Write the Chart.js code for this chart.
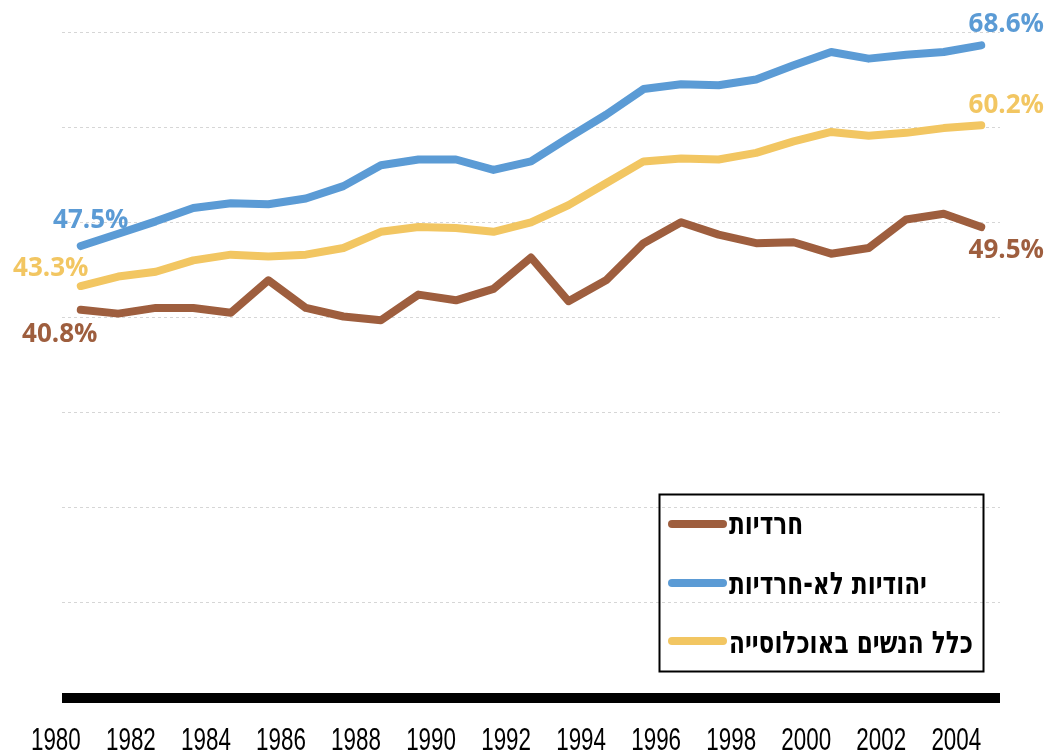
<!DOCTYPE html>
<html>
<head>
<meta charset="utf-8">
<script src="https://cdn.jsdelivr.net/npm/chart.js@4.4.1/dist/chart.umd.min.js"></script>
<style>
  html, body { margin: 0; padding: 0; background: #fff; }
</style>
</head>
<body>
<canvas id="myChart" width="1050" height="753"></canvas>
<script>
'use strict';

var years = ['1980', '1981', '1982', '1983', '1984', '1985', '1986', '1987', '1988', '1989',
    '1990', '1991', '1992', '1993', '1994', '1995', '1996', '1997', '1998', '1999',
    '2000', '2001', '2002', '2003', '2004'];
var shownYears = ['1980', '1982', '1984', '1986', '1988', '1990', '1992', '1994', '1996',
    '1998', '2000', '2002', '2004'];

var haredi = [40.8, 40.4, 41.0, 41.0, 40.5, 43.9, 41.0, 40.1, 39.7, 42.4,
    41.8, 43.0, 46.3, 41.7, 43.9, 47.8, 50.0, 48.7, 47.8, 47.9,
    46.7, 47.3, 50.3, 50.9, 49.5];
var nonHaredi = [47.5, 48.8, 50.1, 51.5, 52.0, 51.9, 52.5, 53.8, 56.0, 56.6,
    56.6, 55.5, 56.4, 58.9, 61.3, 64.0, 64.5, 64.4, 65.0, 66.5,
    67.9, 67.2, 67.6, 67.9, 68.6];
var allWomen = [43.3, 44.3, 44.8, 46.0, 46.6, 46.4, 46.6, 47.3, 49.0, 49.5,
    49.4, 49.0, 50.0, 51.8, 54.1, 56.4, 56.7, 56.6, 57.3, 58.5,
    59.5, 59.1, 59.4, 59.9, 60.2];

var seriesNames = ['חרדיות', 'יהודיות לא-חרדיות', 'כלל הנשים באוכלוסייה'];
var seriesColors = ['rgb(158, 94, 62)', 'rgb(91, 155, 213)', 'rgb(242, 198, 98)'];

var yMin = 0;
var yMax = 70;
var yStep = 10;

// label offsets next to first / last point: [dx, dy] of text baseline centre
var firstLabelOffset = [[-21, 32], [10, -18], [-30, -10]];
var lastLabelOffset = [[25, 31], [25, -13], [25, -12]];

// condensed year labels under the x axis, right edge on the tick
var yearLabels = {
    id: 'yearLabels',
    afterDraw: function (chart) {
        var ctx = chart.ctx;
        var xs = chart.scales.x;
        var squeeze = 0.7;
        ctx.save();
        ctx.font = '32px "Liberation Sans", Arial, sans-serif';
        ctx.fillStyle = '#000';
        ctx.textAlign = 'right';
        ctx.textBaseline = 'alphabetic';
        for (var i = 0; i < years.length; i++) {
            if (shownYears.indexOf(years[i]) < 0) continue;
            var x = xs.getPixelForTick(i);
            ctx.save();
            ctx.translate(x, 750);
            ctx.scale(squeeze, 1);
            ctx.fillText(years[i], 0, 0);
            ctx.restore();
        }
        ctx.restore();
    }
};

var endLabels = {
    id: 'endLabels',
    afterDatasetsDraw: function (chart) {
        var ctx = chart.ctx;
        ctx.save();
        ctx.font = 'bold 26px "Open Sans", "Liberation Sans", sans-serif';
        ctx.textAlign = 'center';
        ctx.textBaseline = 'alphabetic';
        chart.data.datasets.forEach(function (ds, i) {
            var meta = chart.getDatasetMeta(i);
            var first = meta.data[0];
            var last = meta.data[meta.data.length - 1];
            ctx.fillStyle = ds.borderColor;
            ctx.fillText(ds.data[0].toFixed(1) + '%', first.x + firstLabelOffset[i][0], first.y + firstLabelOffset[i][1]);
            ctx.fillText(ds.data[ds.data.length - 1].toFixed(1) + '%', last.x + lastLabelOffset[i][0], last.y + lastLabelOffset[i][1]);
        });
        ctx.restore();
    }
};

var boxLegend = {
    id: 'boxLegend',
    afterDraw: function (chart) {
        var ctx = chart.ctx;
        ctx.save();
        ctx.strokeStyle = '#000';
        ctx.lineWidth = 2;
        ctx.strokeRect(659.5, 494.5, 324, 177);
        ctx.font = 'bold 31px "DejaVu Sans", sans-serif';
        ctx.textAlign = 'left';
        ctx.textBaseline = 'alphabetic';
        // squeeze so the longest entry fits the box like the original
        var widest = 0;
        seriesNames.forEach(function (n) { widest = Math.max(widest, ctx.measureText(n).width); });
        var squeeze = Math.min(1, 244 / widest);
        var lineY = [524, 583, 641];
        var textY = [534, 594, 653];
        chart.data.datasets.forEach(function (ds, i) {
            ctx.strokeStyle = ds.borderColor;
            ctx.lineWidth = 8;
            ctx.lineCap = 'round';
            ctx.beginPath();
            ctx.moveTo(672, lineY[i]);
            ctx.lineTo(723, lineY[i]);
            ctx.stroke();
            ctx.fillStyle = '#000';
            ctx.save();
            ctx.translate(729, textY[i]);
            ctx.scale(squeeze, 1);
            ctx.fillText(ds.label, 0, 0);
            ctx.restore();
        });
        ctx.restore();
    }
};

function isZero(c) {
    return c.tick && c.tick.value === 0;
}

var ctx = document.getElementById('myChart').getContext('2d');
var chart = new Chart(ctx, {
    type: 'line',
    data: {
        labels: years,
        datasets: [{
            label: seriesNames[0],
            data: haredi,
            borderColor: seriesColors[0],
            backgroundColor: seriesColors[0]
        }, {
            label: seriesNames[1],
            data: nonHaredi,
            borderColor: seriesColors[1],
            backgroundColor: seriesColors[1]
        }, {
            label: seriesNames[2],
            data: allWomen,
            borderColor: seriesColors[2],
            backgroundColor: seriesColors[2]
        }]
    },
    options: {
        responsive: false,
        animation: false,
        layout: { padding: { left: 62, right: 50, top: 32, bottom: 0 } },
        elements: {
            line: { borderWidth: 8, borderCapStyle: 'round', borderJoinStyle: 'round', tension: 0 },
            point: { radius: 0 }
        },
        plugins: {
            legend: { display: false },
            tooltip: { enabled: false }
        },
        scales: {
            x: {
                offset: true,
                grid: { display: false },
                border: { display: false },
                ticks: { display: false, autoSkip: false, maxRotation: 0 },
                afterFit: function (scale) { scale.height = 55; }
            },
            y: {
                min: yMin,
                max: yMax,
                ticks: { display: false, stepSize: yStep },
                grid: {
                    drawTicks: false,
                    color: function (c) { return isZero(c) ? '#000' : '#d6d6d6'; },
                    lineWidth: function (c) { return isZero(c) ? 10 : 1; }
                },
                border: {
                    display: false,
                    dash: function (c) { return isZero(c) ? [] : [3, 3]; }
                },
                afterFit: function (scale) { scale.width = 0; }
            }
        }
    },
    plugins: [endLabels, boxLegend, yearLabels]
});
</script>
</body>
</html>
